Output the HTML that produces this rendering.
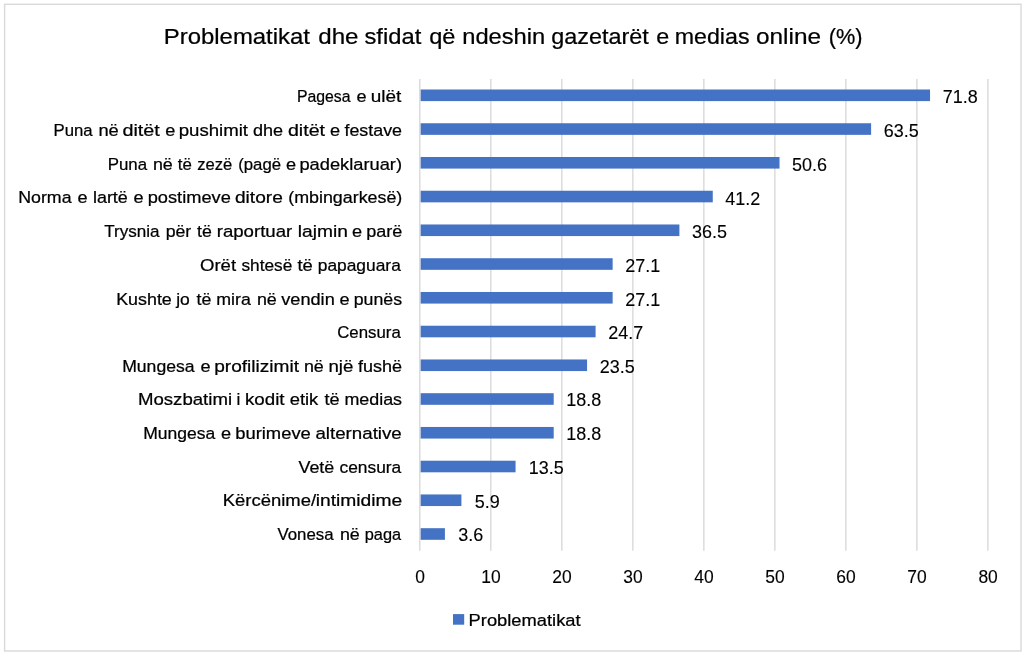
<!DOCTYPE html>
<html lang="sq">
<head>
<meta charset="utf-8">
<title>Problematikat dhe sfidat që ndeshin gazetarët e medias online (%)</title>
<style>
html,body{margin:0;padding:0;background:#fff;}
body{width:1024px;height:655px;overflow:hidden;}
svg{display:block;}
text{font-family:"Liberation Sans",sans-serif;fill:#000;stroke:#000;stroke-width:0.12px;}
.t{font-size:22.2px;stroke-width:0.24px;}
.c{font-size:17.2px;stroke-width:0.24px;}
.d{font-size:17.6px;}
.a{font-size:17.6px;text-anchor:middle;}
.g{stroke:#d9d9d9;stroke-width:1.4;}
.b{fill:#4472c4;}
</style>
</head>
<body>
<svg width="1024" height="655" viewBox="0 0 1024 655">
<rect x="0" y="0" width="1024" height="655" fill="#ffffff"/>
<rect x="4.6" y="4.3" width="1016.4" height="646.7" fill="#ffffff" stroke="#d9d9d9" stroke-width="1.4"/>
<text class="t" y="44.20"><tspan x="163.75" textLength="146.25" lengthAdjust="spacingAndGlyphs">Problematikat</tspan> <tspan x="318.24" textLength="40.25" lengthAdjust="spacingAndGlyphs">dhe</tspan> <tspan x="364.51" textLength="56.74" lengthAdjust="spacingAndGlyphs">sfidat</tspan> <tspan x="429.26" textLength="26.23" lengthAdjust="spacingAndGlyphs">që</tspan> <tspan x="462.23" textLength="83.04" lengthAdjust="spacingAndGlyphs">ndeshin</tspan> <tspan x="551.26" textLength="97.49" lengthAdjust="spacingAndGlyphs">gazetarët</tspan> <tspan x="656.27" textLength="12.96" lengthAdjust="spacingAndGlyphs">e</tspan> <tspan x="674.74" textLength="74.76" lengthAdjust="spacingAndGlyphs">medias</tspan> <tspan x="756.00" textLength="65.00" lengthAdjust="spacingAndGlyphs">online</tspan> <tspan x="828.73" textLength="33.79" lengthAdjust="spacingAndGlyphs">(%)</tspan></text>
<line class="g" x1="419.80" y1="78.9" x2="419.80" y2="550.7"/>
<line class="g" x1="490.81" y1="78.9" x2="490.81" y2="550.7"/>
<line class="g" x1="561.82" y1="78.9" x2="561.82" y2="550.7"/>
<line class="g" x1="632.83" y1="78.9" x2="632.83" y2="550.7"/>
<line class="g" x1="703.84" y1="78.9" x2="703.84" y2="550.7"/>
<line class="g" x1="774.85" y1="78.9" x2="774.85" y2="550.7"/>
<line class="g" x1="845.86" y1="78.9" x2="845.86" y2="550.7"/>
<line class="g" x1="916.87" y1="78.9" x2="916.87" y2="550.7"/>
<line class="g" x1="987.88" y1="78.9" x2="987.88" y2="550.7"/>
<rect class="b" x="420.65" y="89.50" width="509.40" height="11.60"/>
<rect class="b" x="420.65" y="123.25" width="450.46" height="11.60"/>
<rect class="b" x="420.65" y="156.99" width="358.86" height="11.60"/>
<rect class="b" x="420.65" y="190.74" width="292.11" height="11.60"/>
<rect class="b" x="420.65" y="224.48" width="258.74" height="11.60"/>
<rect class="b" x="420.65" y="258.23" width="191.99" height="11.60"/>
<rect class="b" x="420.65" y="291.98" width="191.99" height="11.60"/>
<rect class="b" x="420.65" y="325.72" width="174.94" height="11.60"/>
<rect class="b" x="420.65" y="359.47" width="166.42" height="11.60"/>
<rect class="b" x="420.65" y="393.21" width="133.05" height="11.60"/>
<rect class="b" x="420.65" y="426.96" width="133.05" height="11.60"/>
<rect class="b" x="420.65" y="460.71" width="94.91" height="11.60"/>
<rect class="b" x="420.65" y="494.45" width="40.75" height="11.60"/>
<rect class="b" x="420.65" y="528.20" width="24.26" height="11.60"/>
<text class="c" y="102.20"><tspan x="296.96" textLength="53.59" lengthAdjust="spacingAndGlyphs">Pagesa</tspan> <tspan x="356.49" textLength="10.08" lengthAdjust="spacingAndGlyphs">e</tspan> <tspan x="370.77" textLength="30.57" lengthAdjust="spacingAndGlyphs">ulët</tspan></text>
<text class="c" y="135.95"><tspan x="53.47" textLength="39.08" lengthAdjust="spacingAndGlyphs">Puna</tspan> <tspan x="98.41" textLength="20.39" lengthAdjust="spacingAndGlyphs">në</tspan> <tspan x="122.46" textLength="37.34" lengthAdjust="spacingAndGlyphs">ditët</tspan> <tspan x="165.24" textLength="10.09" lengthAdjust="spacingAndGlyphs">e</tspan> <tspan x="178.71" textLength="69.34" lengthAdjust="spacingAndGlyphs">pushimit</tspan> <tspan x="252.97" textLength="30.13" lengthAdjust="spacingAndGlyphs">dhe</tspan> <tspan x="287.97" textLength="37.07" lengthAdjust="spacingAndGlyphs">ditët</tspan> <tspan x="329.98" textLength="10.10" lengthAdjust="spacingAndGlyphs">e</tspan> <tspan x="344.45" textLength="57.59" lengthAdjust="spacingAndGlyphs">festave</tspan></text>
<text class="c" y="169.69"><tspan x="107.71" textLength="39.35" lengthAdjust="spacingAndGlyphs">Puna</tspan> <tspan x="152.92" textLength="19.89" lengthAdjust="spacingAndGlyphs">në</tspan> <tspan x="177.71" textLength="14.05" lengthAdjust="spacingAndGlyphs">të</tspan> <tspan x="197.20" textLength="35.06" lengthAdjust="spacingAndGlyphs">zezë</tspan> <tspan x="238.20" textLength="42.84" lengthAdjust="spacingAndGlyphs">(pagë</tspan> <tspan x="285.98" textLength="10.10" lengthAdjust="spacingAndGlyphs">e</tspan> <tspan x="299.44" textLength="102.61" lengthAdjust="spacingAndGlyphs">padeklaruar)</tspan></text>
<text class="c" y="203.44"><tspan x="18.19" textLength="53.36" lengthAdjust="spacingAndGlyphs">Norma</tspan> <tspan x="77.49" textLength="10.08" lengthAdjust="spacingAndGlyphs">e</tspan> <tspan x="92.94" textLength="34.86" lengthAdjust="spacingAndGlyphs">lartë</tspan> <tspan x="133.49" textLength="10.08" lengthAdjust="spacingAndGlyphs">e</tspan> <tspan x="147.71" textLength="83.12" lengthAdjust="spacingAndGlyphs">postimeve</tspan> <tspan x="234.95" textLength="47.84" lengthAdjust="spacingAndGlyphs">ditore</tspan> <tspan x="288.20" textLength="114.11" lengthAdjust="spacingAndGlyphs">(mbingarkesë)</tspan></text>
<text class="c" y="237.18"><tspan x="104.20" textLength="55.35" lengthAdjust="spacingAndGlyphs">Trysnia</tspan> <tspan x="165.67" textLength="25.62" lengthAdjust="spacingAndGlyphs">për</tspan> <tspan x="196.96" textLength="14.81" lengthAdjust="spacingAndGlyphs">të</tspan> <tspan x="216.70" textLength="75.60" lengthAdjust="spacingAndGlyphs">raportuar</tspan> <tspan x="297.69" textLength="50.13" lengthAdjust="spacingAndGlyphs">lajmin</tspan> <tspan x="351.98" textLength="10.10" lengthAdjust="spacingAndGlyphs">e</tspan> <tspan x="366.20" textLength="36.11" lengthAdjust="spacingAndGlyphs">parë</tspan></text>
<text class="c" y="270.93"><tspan x="199.97" textLength="36.08" lengthAdjust="spacingAndGlyphs">Orët</tspan> <tspan x="241.45" textLength="50.86" lengthAdjust="spacingAndGlyphs">shtesë</tspan> <tspan x="297.45" textLength="15.32" lengthAdjust="spacingAndGlyphs">të</tspan> <tspan x="317.72" textLength="83.09" lengthAdjust="spacingAndGlyphs">papaguara</tspan></text>
<text class="c" y="304.68"><tspan x="116.19" textLength="55.62" lengthAdjust="spacingAndGlyphs">Kushte</tspan> <tspan x="176.17" textLength="13.60" lengthAdjust="spacingAndGlyphs">jo</tspan> <tspan x="196.46" textLength="14.81" lengthAdjust="spacingAndGlyphs">të</tspan> <tspan x="216.20" textLength="34.60" lengthAdjust="spacingAndGlyphs">mira</tspan> <tspan x="256.90" textLength="19.91" lengthAdjust="spacingAndGlyphs">në</tspan> <tspan x="281.20" textLength="53.59" lengthAdjust="spacingAndGlyphs">vendin</tspan> <tspan x="339.49" textLength="10.08" lengthAdjust="spacingAndGlyphs">e</tspan> <tspan x="353.70" textLength="48.32" lengthAdjust="spacingAndGlyphs">punës</tspan></text>
<text class="c" y="338.42"><tspan x="337.21" textLength="63.59" lengthAdjust="spacingAndGlyphs">Censura</tspan></text>
<text class="c" y="371.67"><tspan x="122.18" textLength="72.37" lengthAdjust="spacingAndGlyphs">Mungesa</tspan> <tspan x="200.49" textLength="10.08" lengthAdjust="spacingAndGlyphs">e</tspan> <tspan x="214.20" textLength="84.85" lengthAdjust="spacingAndGlyphs">profilizimit</tspan> <tspan x="303.91" textLength="19.89" lengthAdjust="spacingAndGlyphs">në</tspan> <tspan x="328.42" textLength="24.91" lengthAdjust="spacingAndGlyphs">një</tspan> <tspan x="357.95" textLength="44.09" lengthAdjust="spacingAndGlyphs">fushë</tspan></text>
<text class="c" y="405.11"><tspan x="137.93" textLength="94.13" lengthAdjust="spacingAndGlyphs">Moszbatimi</tspan> <tspan x="236.50" textLength="3.82" lengthAdjust="spacingAndGlyphs">i</tspan> <tspan x="244.96" textLength="39.59" lengthAdjust="spacingAndGlyphs">kodit</tspan> <tspan x="289.73" textLength="28.57" lengthAdjust="spacingAndGlyphs">etik</tspan> <tspan x="324.46" textLength="15.08" lengthAdjust="spacingAndGlyphs">të</tspan> <tspan x="344.45" textLength="57.60" lengthAdjust="spacingAndGlyphs">medias</tspan></text>
<text class="c" y="438.96"><tspan x="143.21" textLength="72.09" lengthAdjust="spacingAndGlyphs">Mungesa</tspan> <tspan x="220.98" textLength="10.10" lengthAdjust="spacingAndGlyphs">e</tspan> <tspan x="235.20" textLength="75.62" lengthAdjust="spacingAndGlyphs">burimeve</tspan> <tspan x="315.45" textLength="86.35" lengthAdjust="spacingAndGlyphs">alternative</tspan></text>
<text class="c" y="472.71"><tspan x="298.45" textLength="35.84" lengthAdjust="spacingAndGlyphs">Vetë</tspan> <tspan x="339.46" textLength="61.84" lengthAdjust="spacingAndGlyphs">censura</tspan></text>
<text class="c" y="506.45"><tspan x="222.71" textLength="93.34" lengthAdjust="spacingAndGlyphs">Kërcënime/</tspan><tspan x="315.70" textLength="86.61" lengthAdjust="spacingAndGlyphs">intimidime</tspan></text>
<text class="c" y="540.20"><tspan x="277.45" textLength="56.10" lengthAdjust="spacingAndGlyphs">Vonesa</tspan> <tspan x="339.90" textLength="19.91" lengthAdjust="spacingAndGlyphs">në</tspan> <tspan x="364.72" textLength="36.33" lengthAdjust="spacingAndGlyphs">paga</tspan></text>
<text class="d" x="942.65" y="103.10" textLength="35.00" lengthAdjust="spacingAndGlyphs">71.8</text>
<text class="d" x="883.71" y="136.55" textLength="35.00" lengthAdjust="spacingAndGlyphs">63.5</text>
<text class="d" x="792.11" y="170.59" textLength="35.00" lengthAdjust="spacingAndGlyphs">50.6</text>
<text class="d" x="725.36" y="204.74" textLength="35.00" lengthAdjust="spacingAndGlyphs">41.2</text>
<text class="d" x="691.99" y="238.08" textLength="35.00" lengthAdjust="spacingAndGlyphs">36.5</text>
<text class="d" x="625.24" y="271.83" textLength="35.00" lengthAdjust="spacingAndGlyphs">27.1</text>
<text class="d" x="625.24" y="305.58" textLength="35.00" lengthAdjust="spacingAndGlyphs">27.1</text>
<text class="d" x="608.19" y="339.32" textLength="35.00" lengthAdjust="spacingAndGlyphs">24.7</text>
<text class="d" x="599.67" y="373.07" textLength="35.00" lengthAdjust="spacingAndGlyphs">23.5</text>
<text class="d" x="566.30" y="406.21" textLength="35.00" lengthAdjust="spacingAndGlyphs">18.8</text>
<text class="d" x="566.30" y="440.16" textLength="35.00" lengthAdjust="spacingAndGlyphs">18.8</text>
<text class="d" x="528.66" y="474.11" textLength="35.00" lengthAdjust="spacingAndGlyphs">13.5</text>
<text class="d" x="474.70" y="507.55" textLength="25.00" lengthAdjust="spacingAndGlyphs">5.9</text>
<text class="d" x="458.36" y="540.90" textLength="25.00" lengthAdjust="spacingAndGlyphs">3.6</text>
<text class="a" x="420.00" y="582.6" textLength="9.7" lengthAdjust="spacingAndGlyphs">0</text>
<text class="a" x="491.01" y="582.6" textLength="19.4" lengthAdjust="spacingAndGlyphs">10</text>
<text class="a" x="562.02" y="582.6" textLength="19.4" lengthAdjust="spacingAndGlyphs">20</text>
<text class="a" x="633.03" y="582.6" textLength="19.4" lengthAdjust="spacingAndGlyphs">30</text>
<text class="a" x="704.04" y="582.6" textLength="19.4" lengthAdjust="spacingAndGlyphs">40</text>
<text class="a" x="775.05" y="582.6" textLength="19.4" lengthAdjust="spacingAndGlyphs">50</text>
<text class="a" x="846.06" y="582.6" textLength="19.4" lengthAdjust="spacingAndGlyphs">60</text>
<text class="a" x="917.07" y="582.6" textLength="19.4" lengthAdjust="spacingAndGlyphs">70</text>
<text class="a" x="988.08" y="582.6" textLength="19.4" lengthAdjust="spacingAndGlyphs">80</text>
<rect class="b" x="453" y="614.1" width="11.2" height="10.6"/>
<text class="c" x="468.6" y="625.7" textLength="112.0" lengthAdjust="spacingAndGlyphs">Problematikat</text>
</svg>
</body>
</html>
